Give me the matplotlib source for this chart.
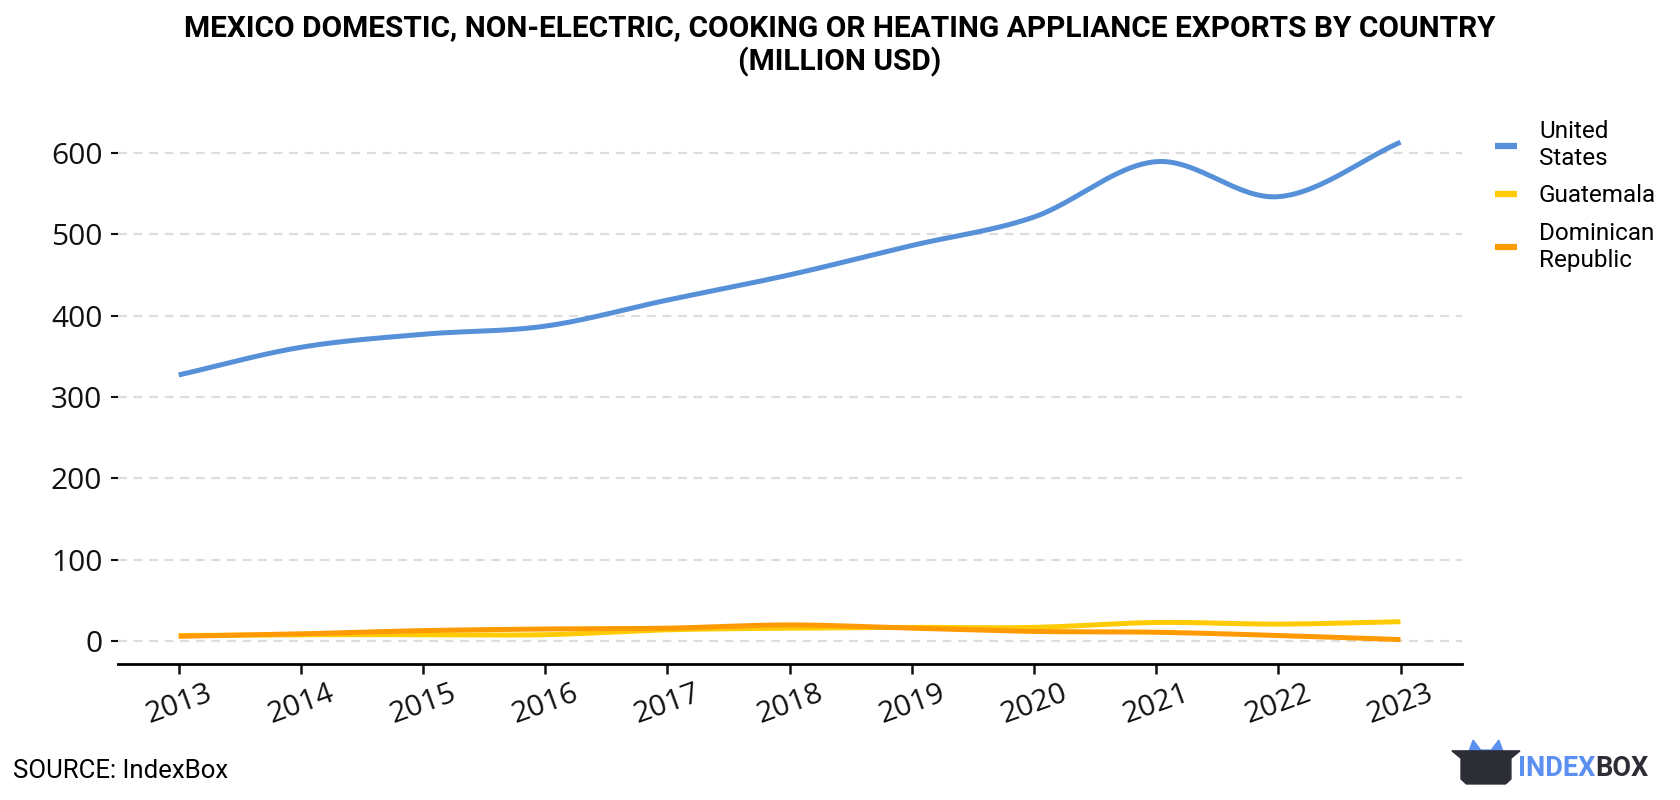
import matplotlib.pyplot as plt
import matplotlib.patches as mpatches
import numpy as np

plt.rcParams['font.family'] = ['Roboto', 'DejaVu Sans']

years = [2013, 2014, 2015, 2016, 2017, 2018, 2019, 2020, 2021, 2022, 2023]
united_states = [327, 361, 377, 387, 419, 450, 486, 521, 589, 546, 613]
guatemala = [7, 8, 8, 8, 14, 16, 17, 17, 23, 21, 24]
dominican_republic = [6, 9, 13, 15, 16, 20, 16, 12, 11, 7, 2]

series = [
    ("United\nStates", united_states, "#5690d8"),
    ("Guatemala", guatemala, "#ffcb05"),
    ("Dominican\nRepublic", dominican_republic, "#ff9a00"),
]


def smooth(x, y, n=30):
    # catmull-rom through the points
    x = np.asarray(x, float)
    y = np.asarray(y, float)
    px = np.concatenate([[2 * x[0] - x[1]], x, [2 * x[-1] - x[-2]]])
    py = np.concatenate([[2 * y[0] - y[1]], y, [2 * y[-1] - y[-2]]])
    xs, ys = [], []
    t = np.linspace(0, 1, n)
    for i in range(1, len(px) - 2):
        for arr, out in ((px, xs), (py, ys)):
            p0, p1, p2, p3 = arr[i - 1], arr[i], arr[i + 1], arr[i + 2]
            out.append(0.5 * (2 * p1 + (-p0 + p2) * t
                              + (2 * p0 - 5 * p1 + 4 * p2 - p3) * t ** 2
                              + (-p0 + 3 * p1 - 3 * p2 + p3) * t ** 3))
    return np.concatenate(xs), np.concatenate(ys)


fig = plt.figure(figsize=(16.8, 8), dpi=100)
ax = fig.add_axes([0.070, 0.170, 0.800, 0.690])

for name, vals, color in series:
    sx, sy = smooth(years, vals)
    ax.plot(sx, sy, color=color, lw=3.6, label=name, solid_capstyle='butt')

ax.set_ylim(-28, 650)
ax.set_xlim(2012.5, 2023.5)
ax.set_yticks([0, 100, 200, 300, 400, 500, 600])
ax.set_xticks(years)
ax.set_xticklabels([str(y) for y in years], rotation=20)
ax.tick_params(axis='both', labelsize=21.5, colors='#111111')
for lab in ax.get_xticklabels() + ax.get_yticklabels():
    lab.set_family(['Open Sans', 'DejaVu Sans'])
ax.tick_params(axis='y', length=5, width=1.5, pad=6)
ax.tick_params(axis='x', length=7, width=1.8, pad=4)
ax.grid(axis='y', color='#dddddd', linestyle=(0, (4, 3)), linewidth=1.6)
ax.set_axisbelow(True)
for s in ['left', 'right', 'top']:
    ax.spines[s].set_visible(False)
ax.spines['bottom'].set_linewidth(2)

leg = fig.legend(loc='upper left', bbox_to_anchor=(0.877, 0.877), frameon=False,
                 fontsize=17.5, handlelength=0.9, handletextpad=0.9,
                 labelspacing=0.6)
for h in leg.get_lines():
    h.set_linewidth(4.5)

fig.text(0.5, 0.982, "MEXICO DOMESTIC, NON-ELECTRIC, COOKING OR HEATING APPLIANCE EXPORTS BY COUNTRY\n(MILLION USD)",
         ha='center', va='top', fontsize=21.5, fontweight='bold', linespacing=1.2)
fig.text(0.008, 0.036, "SOURCE: IndexBox", fontsize=18.5, va='center')

# logo
lx = fig.add_axes([0.862, 0.018, 0.045, 0.062])
lx.set_xlim(0, 10)
lx.set_ylim(0, 6)
lx.axis('off')
lx.add_patch(mpatches.Polygon([[2.5, 3.5], [3.3, 5.5], [4.3, 4.3], [5.7, 4.3], [6.7, 5.5], [7.5, 3.5]],
                              color='#5b8ff0'))
lx.add_patch(mpatches.Polygon([[0.5, 4.2], [9.5, 4.2], [8.3, 3.3], [8.3, 0.8], [7.6, 0.2],
                               [2.4, 0.2], [1.7, 0.8], [1.7, 3.3]], color='#2c2d35'))
t1 = fig.text(0.9035, 0.040, "INDEX", color='#5b8ff0', fontsize=19.5, fontweight='bold', va='center')
fig.canvas.draw()
bb = t1.get_window_extent().transformed(fig.transFigure.inverted())
fig.text(bb.x1, 0.040, "BOX", color='#2c2d35', fontsize=19.5, fontweight='bold', va='center')

fig.savefig("out.png", dpi=100)
